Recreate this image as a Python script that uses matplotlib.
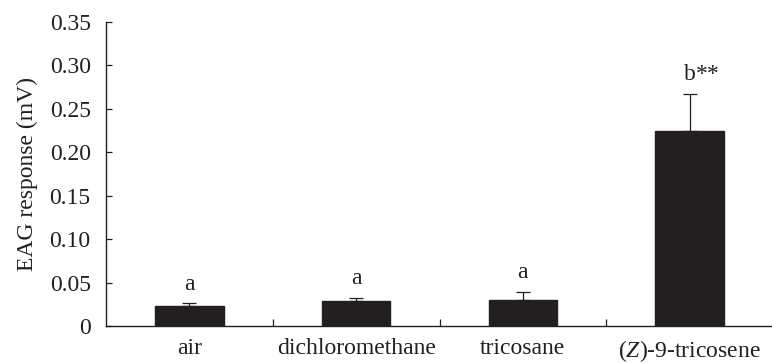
import matplotlib
matplotlib.use("Agg")
import matplotlib.pyplot as plt
import numpy as np

categories = ["air", "dichloromethane", "tricosane", "(Z)-9-tricosene"]
means = [0.023, 0.029, 0.030, 0.225]
sems = [0.003, 0.003, 0.009, 0.042]
letters = ["a", "a", "a", "b"]
stars = ["", "", "", "**"]
yticks = [0, 0.05, 0.10, 0.15, 0.20, 0.25, 0.30, 0.35]
ytick_labels = ["0", "0.05", "0.10", "0.15", "0.20", "0.25", "0.30", "0.35"]

plt.rcParams["font.family"] = ["Liberation Serif", "DejaVu Serif"]
plt.rcParams["mathtext.fontset"] = "custom"
plt.rcParams["mathtext.it"] = "Liberation Serif:italic"
plt.rcParams["mathtext.rm"] = "Liberation Serif"

FS = 17
ink = "#231f20"
fig = plt.figure(figsize=(7.72, 3.63), dpi=100)
ax = fig.add_axes([106 / 772, 1 - 326 / 363, 667 / 772, 304 / 363])

x = np.arange(len(categories))
ax.bar(x, means, width=0.41, color=ink, edgecolor=ink, zorder=2)
ax.errorbar(x, means, yerr=[np.zeros(len(sems)), sems], fmt="none",
            ecolor=ink, elinewidth=0.9, capsize=5, capthick=0.9, zorder=1)

# significance letter centred on the bar, stars trailing to the right
for xi, m, s, lab, st in zip(x, means, sems, letters, stars):
    t = ax.annotate(lab, (xi, m + s), xytext=(0, 10), textcoords="offset points",
                    ha="center", va="baseline", fontsize=FS, color=ink)
    if st:
        ax.annotate(st, xy=(1.0, 0.0), xycoords=t, ha="left", va="bottom",
                    fontsize=FS, color=ink)

ax.set_xlim(-0.5, 3.5)
ax.set_ylim(0, 0.35)
ax.set_yticks(yticks)
ax.set_yticklabels(ytick_labels)

# category names sit under the bars, tick marks sit between them
display_names = ["air", "dichloromethane", "tricosane", "($\\mathit{Z}$)-9-tricosene"]
ax.set_xticks([0.5, 1.5, 2.5])
ax.set_xticklabels([])
ax.set_xticks(x, minor=True)
ax.set_xticklabels(display_names, minor=True)
ax.tick_params(axis="x", which="minor", length=0, pad=9, labelsize=FS, labelcolor=ink)
ax.tick_params(axis="x", which="major", direction="in", length=5, width=0.9, color=ink)
ax.tick_params(axis="y", direction="in", length=4, width=0.9, color=ink, pad=11,
               labelsize=FS, labelcolor=ink)

for side in ["top", "right"]:
    ax.spines[side].set_visible(False)
for side in ["left", "bottom"]:
    ax.spines[side].set_color(ink)
    ax.spines[side].set_linewidth(1.0)

ax.set_ylabel("EAG response (mV)", fontsize=FS, color=ink, labelpad=8)

fig.savefig("out.png", dpi=100)
